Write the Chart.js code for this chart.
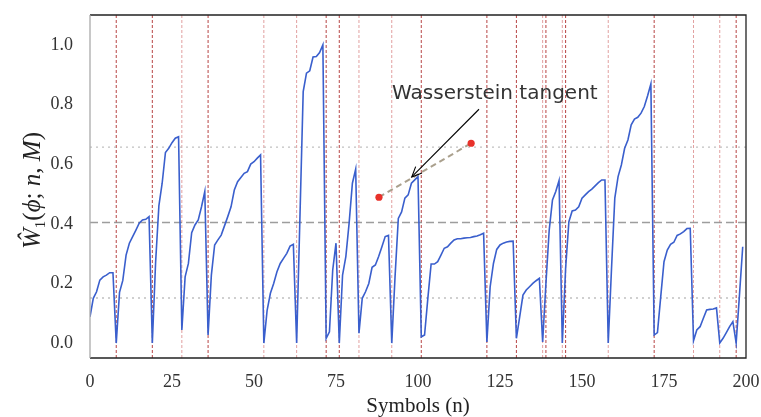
<!DOCTYPE html>
<html>
<head>
<meta charset="utf-8">
<script src="https://cdn.jsdelivr.net/npm/chart.js@4.4.1/dist/chart.umd.min.js"></script>
<style>
  html, body { margin: 0; padding: 0; background: #ffffff; }
  #wrap { width: 761px; height: 417px; position: relative; }
</style>
</head>
<body>
<div id="wrap"><canvas id="c" width="761" height="417"></canvas></div>
<script>
// ---------------- data ----------------
const symbolValues = [
  0.088, 0.150, 0.172, 0.211, 0.222, 0.228, 0.236, 0.236, 0.000, 0.170,
  0.210, 0.295, 0.335, 0.357, 0.379, 0.402, 0.413, 0.415, 0.424, 0.000,
  0.270, 0.460, 0.536, 0.639, 0.653, 0.672, 0.687, 0.692, 0.044, 0.222,
  0.267, 0.370, 0.396, 0.413, 0.457, 0.508, 0.027, 0.228, 0.329, 0.346,
  0.362, 0.393, 0.424, 0.457, 0.513, 0.541, 0.555, 0.569, 0.575, 0.600,
  0.608, 0.620, 0.631, 0.000, 0.110, 0.167, 0.200, 0.239, 0.267, 0.284,
  0.301, 0.325, 0.331, 0.000, 0.420, 0.843, 0.905, 0.913, 0.959, 0.961,
  0.974, 1.000, 0.016, 0.038, 0.245, 0.335, 0.000, 0.228, 0.290, 0.402,
  0.536, 0.583, 0.033, 0.150, 0.172, 0.200, 0.254, 0.262, 0.290, 0.323,
  0.357, 0.361, 0.000, 0.222, 0.418, 0.440, 0.486, 0.497, 0.536, 0.547,
  0.558, 0.021, 0.027, 0.150, 0.265, 0.265, 0.273, 0.295, 0.318, 0.323,
  0.335, 0.346, 0.350, 0.350, 0.352, 0.353, 0.354, 0.357, 0.359, 0.363,
  0.368, 0.004, 0.189, 0.267, 0.314, 0.329, 0.335, 0.339, 0.341, 0.342,
  0.016, 0.088, 0.161, 0.178, 0.189, 0.200, 0.209, 0.217, 0.004, 0.200,
  0.379, 0.480, 0.508, 0.545, 0.000, 0.250, 0.407, 0.443, 0.446, 0.457,
  0.486, 0.497, 0.508, 0.516, 0.527, 0.538, 0.547, 0.547, 0.000, 0.250,
  0.486, 0.558, 0.597, 0.653, 0.681, 0.732, 0.751, 0.757, 0.771, 0.793,
  0.829, 0.869, 0.027, 0.035, 0.155, 0.273, 0.312, 0.331, 0.338, 0.361,
  0.366, 0.374, 0.384, 0.385, 0.008, 0.044, 0.055, 0.083, 0.111, 0.113,
  0.114, 0.118, 0.000, 0.016, 0.035, 0.055, 0.072, 0.000, 0.160, 0.323
];
// change points (vertical dashed lines)
const changePointsStrong = [8, 19, 36, 72, 76, 101, 121, 130, 139, 145, 172, 197];
const changePointsWeak   = [28, 53, 63, 82, 92, 138, 144, 158, 184, 192];
// horizontal reference levels
const meanLevel = 0.404;
const bandLevels = [0.657, 0.151];
// tangent annotation
const tangentX = [88.1, 116.2];
const tangentY = [0.489, 0.670];
const arrowTail = [118.6, 0.784];
const arrowHead = [98.1, 0.557];
const annotationText = "Wasserstein tangent";
const annotationPos = [92.1, 0.818];
// axes
const xTicks = [0, 25, 50, 75, 100, 125, 150, 175, 200];
const yTicks = [0.0, 0.2, 0.4, 0.6, 0.8, 1.0];
const X_MIN = 0, X_MAX = 200, Y_MIN = -0.05, Y_MAX = 1.10;
const xTitle = "Symbols (n)";

// ---------------- build datasets ----------------
const linePts = symbolValues.map((v, i) => ({x: i, y: v}));
function vlinePts(arr) {
  const out = [];
  arr.forEach(x => { out.push({x: x, y: Y_MIN}); out.push({x: x, y: Y_MAX}); out.push({x: x, y: null}); });
  return out;
}
const hlinePts = (lvl) => [{x: X_MIN, y: lvl}, {x: X_MAX, y: lvl}];

const datasets = [
  { data: linePts, borderColor: '#3a5fcd', borderWidth: 1.6, pointRadius: 0, tension: 0, spanGaps: false },
  { data: tangentX.map((x, i) => ({x: x, y: tangentY[i]})), borderColor: 'rgba(165,155,135,0.95)', borderWidth: 2,
    borderDash: [6, 4], pointRadius: 3.6, pointBackgroundColor: '#e8312a', pointBorderColor: '#e8312a', pointBorderWidth: 0 },
  { data: hlinePts(meanLevel), borderColor: 'rgba(140,140,140,0.85)', borderWidth: 1.5, borderDash: [8, 4], pointRadius: 0 },
  { data: hlinePts(bandLevels[0]), borderColor: 'rgba(185,185,185,0.9)', borderWidth: 1.4, borderDash: [2, 4], pointRadius: 0 },
  { data: hlinePts(bandLevels[1]), borderColor: 'rgba(185,185,185,0.9)', borderWidth: 1.4, borderDash: [2, 4], pointRadius: 0 },
  { data: vlinePts(changePointsStrong), borderColor: 'rgba(170,35,35,0.85)', borderWidth: 1, borderDash: [3, 2], pointRadius: 0, spanGaps: false },
  { data: vlinePts(changePointsWeak), borderColor: 'rgba(205,95,95,0.6)', borderWidth: 1, borderDash: [3, 2], pointRadius: 0, spanGaps: false }
];

// ---------------- decorations plugin ----------------
const decor = {
  id: 'decor',
  afterDatasetsDraw(chart) {
    const ctx = chart.ctx, xs = chart.scales.x, ys = chart.scales.y, a = chart.chartArea;
    ctx.save();
    // frame
    ctx.lineWidth = 1.3;
    ctx.strokeStyle = '#222';
    ctx.beginPath();
    ctx.moveTo(a.left, a.top); ctx.lineTo(a.right, a.top); ctx.lineTo(a.right, a.bottom); ctx.lineTo(a.left, a.bottom);
    ctx.stroke();
    ctx.strokeStyle = '#aaaaaa';
    ctx.beginPath(); ctx.moveTo(a.left, a.top); ctx.lineTo(a.left, a.bottom); ctx.stroke();

    // arrow
    const tx = xs.getPixelForValue(arrowTail[0]), ty = ys.getPixelForValue(arrowTail[1]);
    const hx = xs.getPixelForValue(arrowHead[0]), hy = ys.getPixelForValue(arrowHead[1]);
    ctx.strokeStyle = '#000'; ctx.lineWidth = 1.1;
    ctx.beginPath(); ctx.moveTo(tx, ty); ctx.lineTo(hx, hy); ctx.stroke();
    const ang = Math.atan2(hy - ty, hx - tx), L = 11, spread = 0.42;
    ctx.beginPath();
    ctx.moveTo(hx - L * Math.cos(ang - spread), hy - L * Math.sin(ang - spread));
    ctx.lineTo(hx, hy);
    ctx.lineTo(hx - L * Math.cos(ang + spread), hy - L * Math.sin(ang + spread));
    ctx.stroke();

    // annotation text
    ctx.fillStyle = '#333';
    ctx.font = '20px "DejaVu Sans"';
    ctx.textAlign = 'left'; ctx.textBaseline = 'alphabetic';
    ctx.fillText(annotationText, xs.getPixelForValue(annotationPos[0]), ys.getPixelForValue(annotationPos[1]));

    ctx.restore();
  },
  afterDraw(chart) {
    const ctx = chart.ctx, a = chart.chartArea;
    ctx.save();
    // x title
    ctx.fillStyle = '#222';
    ctx.font = '21px "Liberation Serif"';
    ctx.textAlign = 'center'; ctx.textBaseline = 'alphabetic';
    ctx.fillText(xTitle, (a.left + a.right) / 2, 412);

    // y title (rotated, mixed italic)
    const pieces = [
      {t: 'Ŵ', f: 'italic 25px "Liberation Serif"', dy: 0},
      {t: '1', f: '15px "Liberation Serif"', dy: 5},
      {t: '(', f: '25px "Liberation Serif"', dy: 0},
      {t: 'ϕ', f: 'italic 25px "Liberation Serif"', dy: 0},
      {t: '; ', f: '25px "Liberation Serif"', dy: 0},
      {t: 'n', f: 'italic 25px "Liberation Serif"', dy: 0},
      {t: ', ', f: '25px "Liberation Serif"', dy: 0},
      {t: 'M', f: 'italic 25px "Liberation Serif"', dy: 0},
      {t: ')', f: '25px "Liberation Serif"', dy: 0}
    ];
    let total = 0;
    pieces.forEach(p => { ctx.font = p.f; p.w = ctx.measureText(p.t).width; total += p.w; });
    ctx.translate(0, (a.top + a.bottom) / 2 + 4);
    ctx.rotate(-Math.PI / 2);
    ctx.textAlign = 'left'; ctx.textBaseline = 'alphabetic';
    let u = -total / 2;
    pieces.forEach(p => { ctx.font = p.f; ctx.fillText(p.t, u, 40 + p.dy); u += p.w; });
    ctx.restore();
  }
};

new Chart(document.getElementById('c'), {
  type: 'line',
  data: { datasets: datasets },
  options: {
    responsive: false,
    animation: false,
    devicePixelRatio: 1,
    layout: { padding: { left: 0, right: 15, top: 15, bottom: 0 } },
    plugins: { legend: { display: false }, tooltip: { enabled: false } },
    elements: { line: { tension: 0 } },
    scales: {
      x: {
        type: 'linear', min: X_MIN, max: X_MAX,
        afterFit(s) { s.height = 59; s.paddingLeft = 0; s.paddingRight = 0; },
        afterBuildTicks(s) { s.ticks = xTicks.map(v => ({value: v})); },
        grid: { display: false, drawTicks: false },
        border: { display: false },
        ticks: { padding: 13, color: '#333', font: { family: 'Liberation Serif', size: 18 }, maxRotation: 0,
                 callback: v => String(v) }
      },
      y: {
        type: 'linear', min: Y_MIN, max: Y_MAX,
        afterFit(s) { s.width = 90; s.paddingTop = 0; s.paddingBottom = 0; },
        afterBuildTicks(s) { s.ticks = yTicks.map(v => ({value: v})); },
        grid: { display: false, drawTicks: false },
        border: { display: false },
        ticks: { padding: 17, color: '#333', font: { family: 'Liberation Serif', size: 18 },
                 callback: v => Number(v).toFixed(1) }
      }
    }
  },
  plugins: [decor]
});
</script>
</body>
</html>
